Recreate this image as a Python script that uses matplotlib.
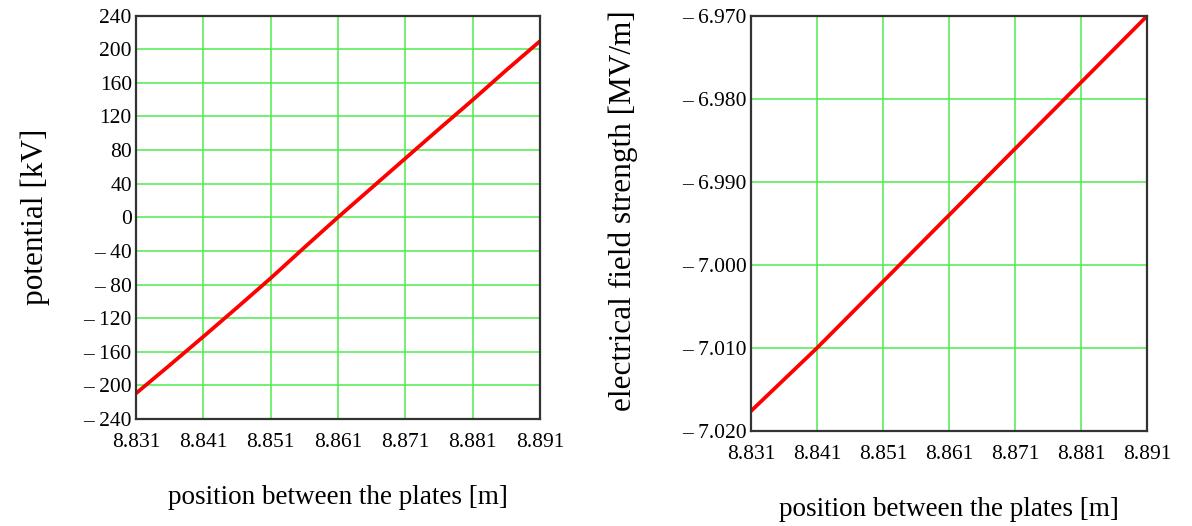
import matplotlib.pyplot as plt

# position between the plates [m]
pos = [8.831, 8.836, 8.841, 8.846, 8.851, 8.856, 8.861, 8.866, 8.871, 8.876, 8.881, 8.886, 8.891]
# potential [kV]
potential = [-209.5, -176.0, -142.0, -107.5, -72.5, -36.0, 0.0, 35.0, 70.0, 105.0, 139.5, 175.0, 209.5]
# electrical field strength [MV/m]
field = [-7.0176, -7.0138, -7.0100, -7.0060, -7.0020, -6.9980, -6.9940, -6.9900, -6.9860,
         -6.9820, -6.9780, -6.9740, -6.9700]

x_ticks = [8.831, 8.841, 8.851, 8.861, 8.871, 8.881, 8.891]
pot_ticks = list(range(-240, 241, 40))
field_ticks = [-7.020, -7.010, -7.000, -6.990, -6.980, -6.970]

plt.rcParams['font.family'] = ['Liberation Serif', 'DejaVu Serif']

fig = plt.figure(figsize=(11.92, 5.26), dpi=100)
ax1 = fig.add_axes([0.1141, 0.2034, 0.3389, 0.7671])
ax2 = fig.add_axes([0.6300, 0.1806, 0.3323, 0.7890])


def fmt(v, nd):
    s = f'{abs(v):.{nd}f}'
    return '\u2013 ' + s if v < 0 else s


for ax in (ax1, ax2):
    ax.set_xlim(8.831, 8.891)
    ax.set_xticks(x_ticks)
    ax.set_xticklabels([f'{t:.3f}' for t in x_ticks])
    ax.grid(True, color='#4cec4c', linewidth=1.1)
    ax.set_axisbelow(True)
    ax.tick_params(length=0, labelsize=15.5)
    ax.tick_params(axis='x', pad=10)
    ax.tick_params(axis='y', pad=3)
    for sp in ax.spines.values():
        sp.set_linewidth(1.6)
        sp.set_color('#333333')
    ax.set_xlabel('position between the plates [m]', fontsize=19.5, labelpad=24)

ax1.plot(pos, potential, color='#ff0000', linewidth=2.7)
ax1.set_ylim(-240, 240)
ax1.set_yticks(pot_ticks)
ax1.set_yticklabels([fmt(t, 0) for t in pot_ticks])
ax1.set_ylabel('potential [kV]', fontsize=22.5, labelpad=24)

ax2.plot(pos, field, color='#ff0000', linewidth=2.7)
ax2.set_ylim(-7.020, -6.970)
ax2.set_yticks(field_ticks)
ax2.set_yticklabels([fmt(t, 3) for t in field_ticks])
ax2.set_ylabel('electrical field strength [MV/m]', fontsize=22.5)
ax2.yaxis.set_label_coords(-0.285, 0.53)

fig.savefig('out.png', dpi=100)
